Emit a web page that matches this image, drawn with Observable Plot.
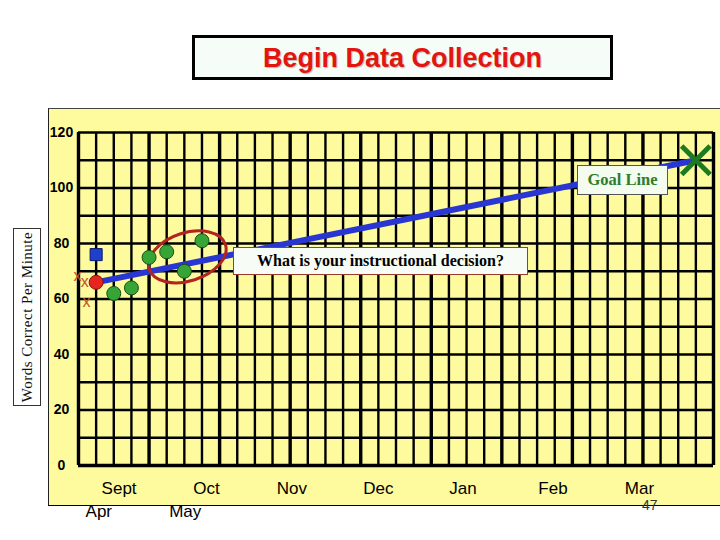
<!DOCTYPE html>
<html>
<head>
<meta charset="utf-8">
<script src="https://cdn.jsdelivr.net/npm/d3@7"></script>
<script src="https://cdn.jsdelivr.net/npm/@observablehq/plot@0.6"></script>
<style>
  html, body { margin: 0; padding: 0; background: #fff; }
  #stage { position: relative; width: 720px; height: 540px; overflow: hidden; font-family: Arial, "Liberation Sans", sans-serif; }
  #panel { position: absolute; left: 48px; top: 108px; width: 700px; height: 396px; background: #fdfb9d;
           border-left: 1px solid #222; border-top: 1px solid #444; border-bottom: 1px solid #000; }
  #chart { position: absolute; left: 0; top: 0; }
  #title { position: absolute; left: 192px; top: 35px; width: 421px; height: 45px; box-sizing: border-box;
           border: 3px solid #000; background: #f6fdf9; color: #e4140f; font: bold 27px Arial, "Liberation Sans", sans-serif;
           text-align: center; line-height: 40px; text-shadow: 1px 1px 1px rgba(0,0,0,0.25); }
  #ylabel { position: absolute; left: 13px; top: 228px; width: 28px; height: 178px; box-sizing: border-box;
            border: 1px solid #333; background: #fff; }
  #ylabel span { position: absolute; left: 50%; top: 50%; transform: translate(-50%, -50%) rotate(-90deg);
                 white-space: nowrap; font: 15px "Times New Roman", "Liberation Serif", serif; letter-spacing: 0.5px; color: #111; }
  .callout { position: absolute; box-sizing: border-box; text-align: center; font-family: "Times New Roman", "Liberation Serif", serif; font-weight: bold; }
  #goal { left: 577px; top: 165px; width: 91px; height: 30px; border: 1px solid #555; background: #f4fbef; color: #2e7d2e; font-size: 16.5px; line-height: 28px; }
  #decision { left: 233px; top: 247px; width: 295px; height: 28px; border: 1.5px solid #9b3b2a; background: #f7fcf7; color: #000; font-size: 16px; line-height: 25px; }
  #page { position: absolute; left: 642px; top: 499px; font: 14px Arial, "Liberation Sans", sans-serif; line-height: 12px; color: #333; }
</style>
</head>
<body>
<div id="stage">
  <div id="panel"></div>
  <div id="chart"></div>
  <div id="title">Begin Data Collection</div>
  <div id="ylabel"><span>Words Correct Per Minute</span></div>
  <div id="goal" class="callout">Goal Line</div>
  <div id="decision" class="callout">What is your instructional decision?</div>
  <div id="page">47</div>
</div>
<script>
// ---- data ----
const yTicks = [0, 20, 40, 60, 80, 100, 120];
const yGrid = [0, 10, 20, 30, 40, 50, 60, 70, 80, 90, 100, 110, 120];
const weekGrid = d3.range(0, 37);
const monthNames = ["Sept", "Oct", "Nov", "Dec", "Jan", "Feb", "Mar"];
const monthPos = [2.3, 7.25, 12.1, 17.0, 21.8, 26.9, 31.8];
const altMonthNames = ["Apr", "May"];
const altMonthPos = [1.15, 6.05];

const baselineXWeeks = [-0.05, 0.35, 0.45];
const baselineXValues = [68.5, 66, 59];
const squareWeek = [1];
const squareValue = [76];
const medianWeek = [1];
const medianValue = [66];
const greenWeeks = [2, 3, 4, 5, 6, 7];
const greenValues = [62, 64, 75, 77, 70, 81];
const goalWeeks = [1, 35];
const goalValues = [66, 110];
const circledWeek = 6.2;
const circledValue = 75;

const zip = (xs, ys) => xs.map((x, i) => ({week: x, value: ys[i]}));
const baseline = zip(baselineXWeeks, baselineXValues);
const square = zip(squareWeek, squareValue);
const median = zip(medianWeek, medianValue);
const green = zip(greenWeeks, greenValues);
const goal = zip(goalWeeks, goalValues);
const goalEnd = [goal[goal.length - 1]];
const months = monthNames.map((m, i) => ({name: m, pos: monthPos[i]}));
const altMonths = altMonthNames.map((m, i) => ({name: m, pos: altMonthPos[i]}));

// ellipse annotation drawn with the plot's scales
function ellipseMark(index, scales) {
  const sx = scales.x, sy = scales.y;
  const cx = sx(circledWeek), cy = sy(circledValue);
  const e = document.createElementNS("http://www.w3.org/2000/svg", "ellipse");
  e.setAttribute("cx", cx);
  e.setAttribute("cy", cy);
  e.setAttribute("rx", 40);
  e.setAttribute("ry", 24);
  e.setAttribute("transform", `rotate(-18 ${cx} ${cy})`);
  e.setAttribute("fill", "none");
  e.setAttribute("stroke", "#b3231f");
  e.setAttribute("stroke-width", 3);
  return e;
}

const chart = Plot.plot({
  width: 720,
  height: 540,
  marginLeft: 78,
  marginRight: 7,
  marginTop: 132,
  marginBottom: 75,
  x: {domain: [0, 36], axis: null},
  y: {domain: [0, 120], axis: null},
  style: {background: "transparent", overflow: "visible", fontFamily: "Arial, 'Liberation Sans', sans-serif"},
  marks: [
    Plot.ruleY(yGrid, {stroke: "#000", strokeWidth: d => (d === 0 ? 3.6 : 2.6)}),
    Plot.ruleX(weekGrid, {stroke: "#000", strokeWidth: d => (d % 4 === 0 ? 3.4 : 2.4)}),
    Plot.text(yTicks, {y: d => d, text: d => String(d), frameAnchor: "left", dx: -17, textAnchor: "middle",
      fontSize: 14, fontWeight: "bold", fill: "#000"}),
    Plot.text(months, {x: "pos", text: "name", frameAnchor: "bottom", dy: 28, fontSize: 17, fill: "#000"}),
    Plot.text(altMonths, {x: "pos", text: "name", frameAnchor: "bottom", dy: 51, fontSize: 17, fill: "#000"}),
    Plot.line(goal, {x: "week", y: "value", stroke: "#2a36d2", strokeWidth: 6}),
    ellipseMark,
    Plot.text(baseline, {x: "week", y: "value", text: () => "x", fontSize: 16, fill: "#c4501e"}),
    Plot.dot(square, {x: "week", y: "value", symbol: "square", r: 6.8, fill: "#1f3fcf", stroke: "#0b1a6a", strokeWidth: 1}),
    Plot.dot(median, {x: "week", y: "value", r: 7, fill: "#e52520", stroke: "#8b1010", strokeWidth: 1}),
    Plot.dot(green, {x: "week", y: "value", r: 7, fill: "#36a536", stroke: "#17501a", strokeWidth: 1}),
    Plot.dot(goalEnd, {x: "week", y: "value", symbol: "times", r: 13, stroke: "#1e7a1e", strokeWidth: 5})
  ]
});
document.getElementById("chart").appendChild(chart);
</script>
</body>
</html>
